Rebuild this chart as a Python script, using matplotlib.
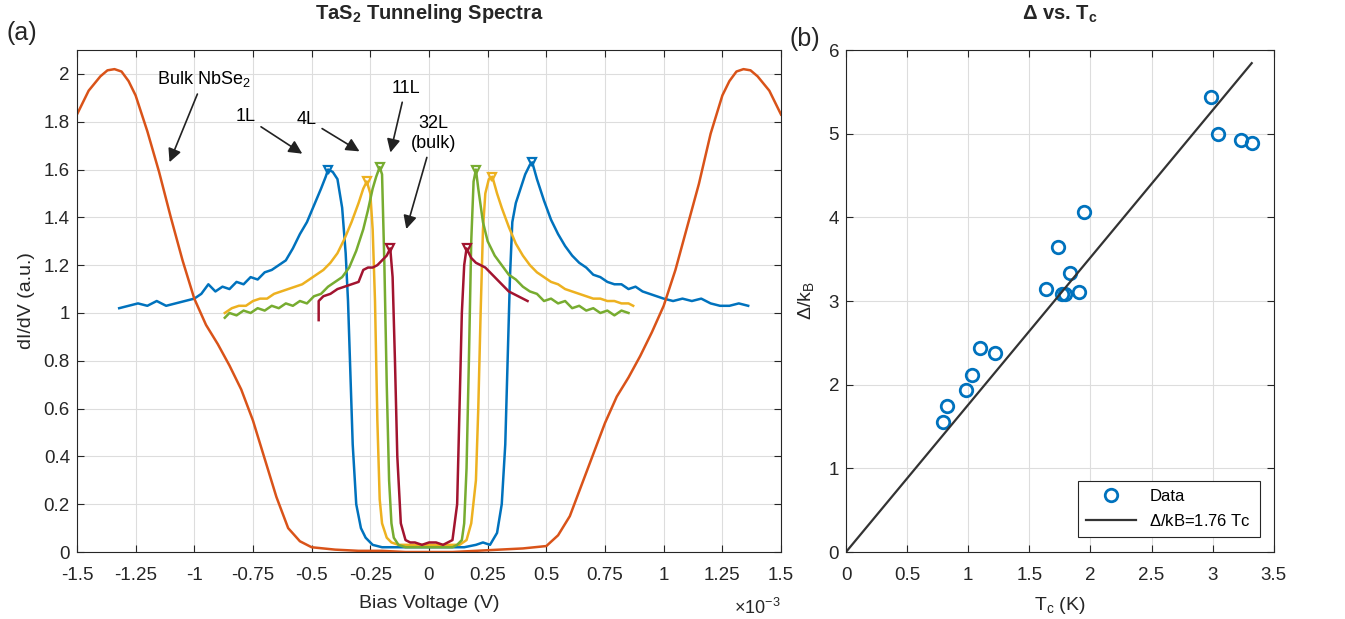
import numpy as np
import matplotlib.pyplot as plt

plt.rcParams['font.family'] = ['Liberation Sans', 'DejaVu Sans']
plt.rcParams['mathtext.fontset'] = 'custom'
plt.rcParams['mathtext.rm'] = 'Liberation Sans'
plt.rcParams['mathtext.bf'] = 'Liberation Sans:bold'

# Spectres dI/dV (tension en unités de 1e-3 V)
x_1L = [-1.32, -1.28, -1.24, -1.2, -1.16, -1.12, -1.08, -1.04, -1.0, -0.97, -0.94, -0.91, -0.88,
        -0.85, -0.82, -0.79, -0.76, -0.73, -0.70, -0.67, -0.64, -0.61, -0.58, -0.55, -0.52, -0.49,
        -0.46, -0.44, -0.43, -0.41, -0.39, -0.37, -0.355, -0.345, -0.335, -0.325, -0.31, -0.29,
        -0.27, -0.24, -0.2, -0.15, -0.1, -0.05, 0, 0.05, 0.1, 0.15, 0.2, 0.23, 0.26, 0.29, 0.31,
        0.325, 0.335, 0.345, 0.355, 0.37, 0.39, 0.41, 0.43, 0.44, 0.46, 0.49, 0.52, 0.55, 0.58,
        0.61, 0.64, 0.67, 0.70, 0.73, 0.76, 0.79, 0.82, 0.85, 0.88, 0.91, 0.94, 0.97, 1.0, 1.04,
        1.08, 1.12, 1.16, 1.2, 1.24, 1.28, 1.32, 1.36]
y_1L = [1.02, 1.03, 1.04, 1.03, 1.05, 1.03, 1.04, 1.05, 1.06, 1.08, 1.12, 1.09, 1.11,
        1.10, 1.13, 1.12, 1.15, 1.14, 1.17, 1.18, 1.20, 1.22, 1.27, 1.33, 1.38, 1.45,
        1.52, 1.57, 1.60, 1.59, 1.56, 1.44, 1.25, 1.05, 0.75, 0.45, 0.20, 0.10,
        0.06, 0.03, 0.02, 0.02, 0.02, 0.02, 0.02, 0.02, 0.02, 0.02, 0.03, 0.04, 0.03, 0.08, 0.20,
        0.45, 0.80, 1.15, 1.38, 1.46, 1.52, 1.58, 1.62, 1.63, 1.56, 1.47, 1.39, 1.33, 1.28,
        1.24, 1.21, 1.19, 1.16, 1.15, 1.13, 1.12, 1.12, 1.10, 1.11, 1.09, 1.08, 1.07, 1.06, 1.05,
        1.06, 1.05, 1.06, 1.04, 1.03, 1.03, 1.04, 1.03]

x_nbse2 = [-1.5, -1.45, -1.4, -1.37, -1.34, -1.31, -1.28, -1.25, -1.2, -1.15, -1.1, -1.05, -1.0,
           -0.95, -0.9, -0.85, -0.8, -0.75, -0.7, -0.65, -0.6, -0.55, -0.5, -0.4, -0.3, -0.2,
           -0.1, 0, 0.1, 0.2, 0.3, 0.4, 0.5, 0.55, 0.6, 0.65, 0.7, 0.75, 0.8, 0.85, 0.9, 0.95,
           1.0, 1.05, 1.1, 1.15, 1.2, 1.25, 1.28, 1.31, 1.34, 1.37, 1.4, 1.45, 1.5]
y_nbse2 = [1.83, 1.93, 1.99, 2.015, 2.02, 2.01, 1.97, 1.91, 1.76, 1.59, 1.40, 1.22, 1.06,
           0.95, 0.87, 0.78, 0.68, 0.55, 0.39, 0.23, 0.10, 0.045, 0.02, 0.01, 0.005, 0.005,
           0.0, 0.0, 0.0, 0.005, 0.01, 0.015, 0.025, 0.07, 0.15, 0.28, 0.41, 0.54, 0.65, 0.73,
           0.82, 0.92, 1.03, 1.18, 1.36, 1.54, 1.75, 1.91, 1.97, 2.01, 2.02, 2.015, 1.99, 1.93,
           1.83]

x_4L = [-0.87, -0.84, -0.81, -0.78, -0.75, -0.72, -0.69, -0.66, -0.63, -0.6, -0.57, -0.54, -0.51,
        -0.48, -0.45, -0.42, -0.39, -0.36, -0.33, -0.30, -0.28, -0.265, -0.25, -0.24, -0.23,
        -0.22, -0.21, -0.2, -0.18, -0.16, -0.13, -0.1, -0.05, 0, 0.05, 0.1, 0.13, 0.16, 0.18,
        0.2, 0.21, 0.22, 0.23, 0.24, 0.255, 0.27, 0.29, 0.31, 0.34, 0.37, 0.40, 0.43, 0.46,
        0.49, 0.52, 0.55, 0.58, 0.61, 0.64, 0.67, 0.70, 0.73, 0.76, 0.79, 0.82, 0.85, 0.87]
y_4L = [1.0, 1.02, 1.03, 1.03, 1.05, 1.06, 1.06, 1.08, 1.09, 1.10, 1.11, 1.12, 1.14,
        1.16, 1.18, 1.21, 1.25, 1.31, 1.38, 1.46, 1.52, 1.55, 1.50, 1.35, 1.05,
        0.55, 0.22, 0.12, 0.06, 0.04, 0.03, 0.03, 0.03, 0.03, 0.03, 0.03, 0.03, 0.05, 0.12,
        0.30, 0.60, 1.0, 1.35, 1.50, 1.56, 1.57, 1.50, 1.44, 1.36, 1.29, 1.24, 1.20, 1.17,
        1.15, 1.13, 1.12, 1.10, 1.09, 1.08, 1.07, 1.06, 1.06, 1.05, 1.05, 1.04, 1.04, 1.03]

x_11L = [-0.87, -0.85, -0.82, -0.79, -0.76, -0.73, -0.70, -0.67, -0.64, -0.61, -0.58, -0.55,
         -0.52, -0.49, -0.46, -0.43, -0.40, -0.37, -0.34, -0.31, -0.28, -0.26, -0.24, -0.225,
         -0.21, -0.2, -0.19, -0.18, -0.17, -0.16, -0.15, -0.13, -0.1, -0.05, 0, 0.05, 0.1,
         0.12, 0.14, 0.15, 0.16, 0.17, 0.18, 0.19, 0.2, 0.21, 0.23, 0.25, 0.28, 0.31, 0.34,
         0.37, 0.40, 0.43, 0.46, 0.49, 0.52, 0.55, 0.58, 0.61, 0.64, 0.67, 0.70, 0.73, 0.76,
         0.79, 0.82, 0.85]
y_11L = [0.98, 1.0, 0.99, 1.01, 1.0, 1.02, 1.01, 1.03, 1.02, 1.04, 1.03, 1.05,
         1.04, 1.07, 1.08, 1.11, 1.13, 1.15, 1.19, 1.26, 1.35, 1.43, 1.52, 1.57,
         1.61, 1.58, 1.20, 0.70, 0.30, 0.12, 0.06, 0.03, 0.02, 0.02, 0.02, 0.02, 0.02,
         0.03, 0.05, 0.12, 0.35, 0.80, 1.30, 1.55, 1.60, 1.52, 1.38, 1.30, 1.24, 1.20, 1.16,
         1.14, 1.11, 1.09, 1.08, 1.05, 1.06, 1.04, 1.05, 1.02, 1.03, 1.01, 1.02, 1.0, 1.01,
         0.99, 1.01, 1.0]

x_32L = [-0.47, -0.47, -0.45, -0.42, -0.39, -0.36, -0.33, -0.30, -0.28, -0.26, -0.24, -0.22,
         -0.20, -0.18, -0.165, -0.155, -0.145, -0.135, -0.12, -0.1, -0.08, -0.06, -0.03, 0,
         0.03, 0.06, 0.08, 0.1, 0.12, 0.13, 0.14, 0.15, 0.16, 0.18, 0.2, 0.22, 0.24, 0.26,
         0.28, 0.30, 0.32, 0.34, 0.36, 0.38, 0.40, 0.42]
y_32L = [0.97, 1.05, 1.07, 1.08, 1.10, 1.11, 1.12, 1.13, 1.18, 1.19, 1.19, 1.20,
         1.22, 1.24, 1.27, 1.15, 0.80, 0.40, 0.12, 0.05, 0.04, 0.04, 0.03, 0.04,
         0.04, 0.03, 0.04, 0.05, 0.20, 0.60, 1.0, 1.20, 1.27, 1.23, 1.21, 1.20, 1.19, 1.17,
         1.15, 1.13, 1.11, 1.09, 1.08, 1.07, 1.06, 1.05]

# Données Delta vs Tc
tc = [2.985, 3.04, 3.235, 3.32, 1.946, 1.736, 1.832, 1.64, 1.764, 1.79, 1.908,
      1.096, 1.218, 1.028, 0.981, 0.823, 0.796]
delta = [5.44, 5.0, 4.92, 4.89, 4.06, 3.645, 3.33, 3.14, 3.08, 3.08, 3.11,
         2.44, 2.375, 2.115, 1.936, 1.745, 1.557]
bcs_ratio = 1.76

c_blue = '#0072BD'
c_orange = '#D95319'
c_yellow = '#EDB120'
c_green = '#77AC30'
c_red = '#A2142F'
c_axis = '#262626'

fig = plt.figure(figsize=(13.45, 6.19), dpi=100)
ax1 = fig.add_axes([0.0572, 0.1082, 0.5235, 0.811])
ax2 = fig.add_axes([0.629, 0.1082, 0.318, 0.811])

# Panneau (a)
ax1.plot(x_1L, y_1L, color=c_blue, lw=1.8)
ax1.plot(x_nbse2, y_nbse2, color=c_orange, lw=1.8)
ax1.plot(x_4L, y_4L, color=c_yellow, lw=1.8)
ax1.plot(x_11L, y_11L, color=c_green, lw=1.8)
ax1.plot(x_32L, y_32L, color=c_red, lw=1.8)

# Triangles aux pics de cohérence
for xs, ys, c in [(x_1L, y_1L, c_blue), (x_4L, y_4L, c_yellow),
                  (x_11L, y_11L, c_green), (x_32L, y_32L, c_red)]:
    xs = np.array(xs)
    ys = np.array(ys)
    for side in [xs < 0, xs > 0]:
        i = np.argmax(ys[side])
        ax1.plot(xs[side][i], ys[side][i], marker='v', color=c, ms=6, mfc='none', mew=1.6)

ax1.set_xlim(-1.5, 1.5)
ax1.set_ylim(0, 2.1)
xt = np.arange(-1.5, 1.51, 0.25)
ax1.set_xticks(xt)
ax1.set_xticklabels(['%g' % v for v in xt])
yt = np.arange(0, 2.01, 0.2)
ax1.set_yticks(yt)
ax1.set_yticklabels(['%g' % round(v, 1) for v in yt])
ax1.set_xlabel('Bias Voltage (V)', fontsize=14, color=c_axis, labelpad=8)
ax1.set_ylabel('dI/dV (a.u.)', fontsize=14, color=c_axis, labelpad=6)
ax1.set_title(r'TaS$_\mathbf{2}$ Tunneling Spectra', fontsize=14.5, fontweight='bold',
              color=c_axis, pad=22)
ax1.text(1.0, -0.112, r'$\times10^{-3}$', transform=ax1.transAxes, ha='right', va='center',
         fontsize=13, color=c_axis)

arrow = dict(arrowstyle='-|>', color='#222222', lw=1.2, mutation_scale=20)
ax1.annotate('Bulk NbSe$_2$', xy=(-1.11, 1.62), xytext=(-0.96, 1.98), ha='center', va='center',
             fontsize=13, arrowprops=arrow)
ax1.annotate('1L', xy=(-0.53, 1.66), xytext=(-0.78, 1.82), ha='center', va='center',
             fontsize=13, arrowprops=arrow)
ax1.annotate('4L', xy=(-0.286, 1.67), xytext=(-0.52, 1.81), ha='center', va='center',
             fontsize=13, arrowprops=arrow)
ax1.annotate('11L', xy=(-0.167, 1.66), xytext=(-0.10, 1.94), ha='center', va='center',
             fontsize=13, arrowprops=arrow)
ax1.annotate('32L\n(bulk)', xy=(-0.10, 1.34), xytext=(0.02, 1.75), ha='center', va='center',
             fontsize=13, arrowprops=arrow)

# Panneau (b)
ax2.plot(tc, delta, 'o', ms=9, mfc='none', mec=c_blue, mew=2, label='Data')
tc_fit = np.array([0, max(tc)])
ax2.plot(tc_fit, bcs_ratio * tc_fit, color='#333333', lw=1.6, label=r'$\Delta$/kB=1.76 Tc')
ax2.set_xlim(0, 3.5)
ax2.set_ylim(0, 6)
xt2 = np.arange(0, 3.51, 0.5)
ax2.set_xticks(xt2)
ax2.set_xticklabels(['%g' % v for v in xt2])
ax2.set_yticks(range(7))
ax2.set_xlabel(r'T$_\mathrm{c}$ (K)', fontsize=14, color=c_axis, labelpad=8)
ax2.set_ylabel(r'$\Delta$/k$_\mathrm{B}$', fontsize=14, color=c_axis, labelpad=8)
ax2.set_title(r'$\mathbf{\Delta}$ vs. T$_\mathbf{c}$', fontsize=14.5, fontweight='bold',
              color=c_axis, pad=22)
leg = ax2.legend(loc='lower right', fontsize=12, fancybox=False, edgecolor='#262626',
                 framealpha=1, borderpad=0.5, handlelength=3, borderaxespad=0,
                 bbox_to_anchor=(0.967, 0.03))
leg.get_frame().set_linewidth(0.8)

for ax in [ax1, ax2]:
    ax.grid(True, color='#dddddd', lw=0.8)
    ax.set_axisbelow(True)
    ax.tick_params(direction='in', top=True, right=True, labelsize=13.5, colors=c_axis,
                   length=5)
    ax.tick_params(axis='x', pad=11)
    ax.tick_params(axis='y', pad=5)
    for s in ax.spines.values():
        s.set_color(c_axis)
        s.set_linewidth(0.8)

fig.text(0.005, 0.935, '(a)', fontsize=18, color=c_axis)
fig.text(0.587, 0.925, '(b)', fontsize=18, color=c_axis)

fig.savefig('out.png', dpi=100)
